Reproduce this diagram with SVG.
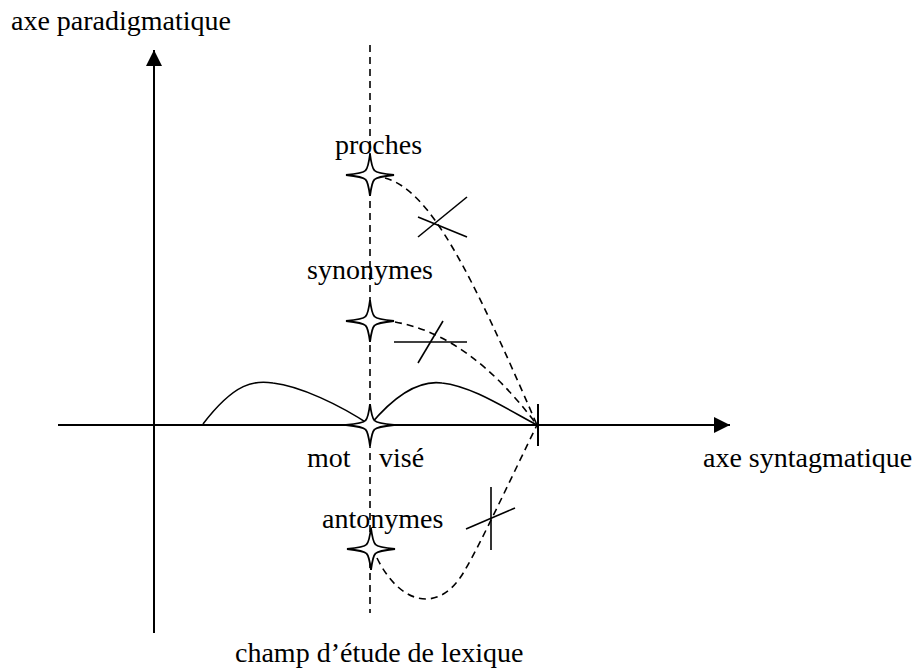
<svg xmlns="http://www.w3.org/2000/svg" width="914" height="668" viewBox="0 0 914 668">
<defs>
<style>
text{font-family:"Liberation Serif","Times New Roman",serif;font-size:28px;fill:#000}
.ax{stroke:#000;stroke-width:2;fill:none}
.dash{stroke:#000;stroke-width:1.6;fill:none;stroke-dasharray:7 5}
.sol{stroke:#000;stroke-width:1.6;fill:none}
.star{fill:#fff;stroke:#000;stroke-width:1.8;stroke-linejoin:miter}
</style>
<marker id="ah" markerWidth="16" markerHeight="16" refX="16" refY="8" orient="auto" markerUnits="userSpaceOnUse" viewBox="0 0 16 16">
<path d="M0,0 L16,8 L0,16 Z" fill="#000"/>
</marker>
<path id="st" d="M0,-21 Q1.8,-7 4.5,-4.5 Q7,-1.8 24,0 Q7,1.8 4.5,4.5 Q1.8,7 0,21 Q-1.8,7 -4.5,4.5 Q-7,1.8 -24,0 Q-7,-1.8 -4.5,-4.5 Q-1.8,-7 0,-21 Z"/>
</defs>
<rect width="914" height="668" fill="#fff"/>
<g id="connectors">
<line class="ax" x1="154" y1="633" x2="154" y2="50" marker-end="url(#ah)"/>
<line class="ax" x1="58" y1="425" x2="730" y2="425" marker-end="url(#ah)"/>
<line class="dash" x1="370" y1="45" x2="370" y2="613"/>
<path class="sol" d="M203,424 C235,382 255,380 273,383 C300,386 340,405 370,425"/>
<path class="sol" d="M370,425 C395,395 420,380 442,383 C470,386 500,405 537,425"/>
<line class="sol" x1="538" y1="404" x2="538" y2="446" style="stroke-width:2"/>
<path class="dash" d="M385,178 C430,190 470,270 537,425"/>
<path class="dash" d="M395,322 Q470,335 537,425"/>
<path class="dash" d="M377,558 C400,605 440,615 465,570 C480,545 515,470 537,425"/>
<line class="sol" x1="418" y1="217" x2="467" y2="237"/>
<line class="sol" x1="418" y1="237" x2="467" y2="197"/>
<line class="sol" x1="394" y1="342" x2="467" y2="342"/>
<line class="sol" x1="418" y1="363" x2="443" y2="321"/>
<line class="sol" x1="491" y1="487" x2="491" y2="550"/>
<line class="sol" x1="466" y1="529" x2="515" y2="508"/>
</g>
<g id="proches"><use href="#st" class="star" x="370" y="175"/><text x="335" y="154">proches</text></g>
<g id="synonymes"><use href="#st" class="star" x="370" y="321"/><text x="307" y="279">synonymes</text></g>
<g id="mot-vise"><use href="#st" class="star" x="370" y="425"/><text x="307" y="467">mot</text><text x="379" y="467">visé</text></g>
<g id="antonymes"><use href="#st" class="star" x="371" y="549"/><text x="322" y="528">antonymes</text></g>
<g id="labels">
<text x="11" y="30">axe paradigmatique</text>
<text x="703" y="467">axe syntagmatique</text>
<text x="235" y="662">champ d’étude de lexique</text>
</g>
</svg>
